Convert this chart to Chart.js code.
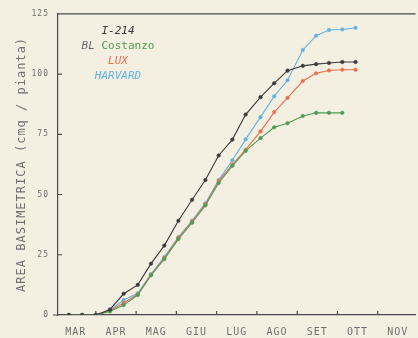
<!DOCTYPE html>
<html>
<head>
<meta charset="utf-8">
<script src="https://cdn.jsdelivr.net/npm/chart.js@4"></script>
<style>
html,body{margin:0;padding:0;background:#f3f0e2;}
#wrap{width:418px;height:338px;position:relative;}
</style>
</head>
<body>
<div id="wrap"><canvas id="c" width="418" height="338"></canvas></div>
<script>
// Month labels (x axis), positions in months counted from 1 March
const months = ['MAR','APR','MAG','GIU','LUG','AGO','SET','OTT','NOV'];
const samplePos = [0.33,0.66,1.0,1.35,1.69,2.04,2.37,2.70,3.05,3.39,3.72,4.05,4.39,4.72,5.09,5.43,5.76,6.14,6.47,6.79,7.12,7.45];
const yTicks = [0,25,50,75,100,125];

// Series values (cmq / pianta)
const i214     = [0,0,0,2.3,8.8,12.5,21.3,28.8,39.1,47.8,56.0,66.2,72.8,83.2,90.4,96.2,101.4,103.4,104.1,104.6,105,105];
const costanzo = [0,0,0,1.5,4.1,8.3,16.5,23.2,31.5,38.3,45.5,54.8,61.9,68.1,73.4,77.9,79.6,82.6,83.9,83.9,83.9];
const lux      = [0,0,0,1.8,5.0,8.6,16.7,23.6,32.0,38.8,46.0,55.6,62.4,68.6,76.2,84.2,90.1,97.1,100.3,101.5,101.8,101.8];
const harvard  = [0,0,0,2.0,6.2,9.0,17.0,24.0,32.3,39.2,46.4,56.0,64.2,72.9,82.1,90.8,97.4,110.0,115.9,118.3,118.5,119.2];

const COL = {i214:'#3c3a3a', costanzo:'#4f9a55', lux:'#f06e50', harvard:'#62b2e2', axis:'#4a4a4a', text:'#707070'};

function pts(vals){ return vals.map((v,i)=>({x:samplePos[i], y:v})); }
function ds(label, vals, color){
  return {label, data:pts(vals), borderColor:color, backgroundColor:color, borderWidth:1.1,
    pointRadius:1.8, pointHoverRadius:1.8, pointBorderWidth:0.5, pointStyle:'circle', tension:0};
}

const decor = {
  id:'decor',
  beforeDraw(chart){ chart.ctx.letterSpacing = '1px'; },
  afterDraw(chart){
    const {ctx, chartArea:a, scales:{x,y}} = chart;
    ctx.save();
    ctx.strokeStyle = COL.axis; ctx.lineWidth = 1.2;
    ctx.beginPath();
    ctx.moveTo(a.left, a.top); ctx.lineTo(a.right, a.top);
    // inward month ticks
    for(let m=1;m<=9;m++){ const px=x.getPixelForValue(m); if(px<a.right){ctx.moveTo(px,a.bottom); ctx.lineTo(px,a.bottom-4);} }
    for(const t of yTicks.slice(1,-1)){ const py=y.getPixelForValue(t); ctx.moveTo(a.left,py); ctx.lineTo(a.left+4,py); }
    ctx.moveTo(a.left-5,a.bottom); ctx.lineTo(a.left,a.bottom);
    ctx.stroke();
    // legend (text only)
    ctx.letterSpacing = '0px';
    ctx.textBaseline = 'middle';
    const cx = 118;
    const rows = [
      [['I-214', COL.i214, 'italic']],
      [['BL ', '#6a6a6a', 'italic'], ['Costanzo', COL.costanzo, 'normal']],
      [['LUX', COL.lux, 'italic']],
      [['HARVARD', COL.harvard, 'italic']]
    ];
    rows.forEach((parts,r)=>{
      let w=0;
      parts.forEach(p=>{ ctx.font = p[2]+' 11px "DejaVu Sans Mono"'; w+=ctx.measureText(p[0]).width; });
      let xx = cx - w/2; const yy = 31 + r*15;
      parts.forEach(p=>{ ctx.font = p[2]+' 11px "DejaVu Sans Mono"'; ctx.fillStyle=p[1]; ctx.textAlign='left'; ctx.fillText(p[0], xx, yy); xx+=ctx.measureText(p[0]).width; });
    });
    ctx.restore();
  }
};

new Chart(document.getElementById('c'), {
  type:'line',
  data:{ datasets:[
    ds('I-214', i214, COL.i214),
    ds('BL Costanzo', costanzo, COL.costanzo),
    ds('LUX', lux, COL.lux),
    ds('HARVARD', harvard, COL.harvard)
  ]},
  options:{
    responsive:false, animation:false, devicePixelRatio:1,
    layout:{padding:{top:12,right:0,left:0,bottom:0}},
    plugins:{legend:{display:false}, tooltip:{enabled:false}},
    scales:{
      x:{ type:'linear', min:0.06, max:8.94,
        afterBuildTicks(s){ s.ticks = months.map((_,i)=>({value:i+0.5})); },
        afterFit(s){ s.height = 23; },
        grid:{display:false, drawTicks:false},
        border:{display:true, color:COL.axis, width:1.2},
        ticks:{ autoSkip:false, maxRotation:0, padding:11, color:COL.text,
          font:{family:'"DejaVu Sans Mono"', size:10},
          callback:(v)=>months[Math.round(v-0.5)] }
      },
      y:{ type:'linear', min:0, max:125,
        afterBuildTicks(s){ s.ticks = yTicks.map(v=>({value:v})); },
        afterFit(s){ s.width = 58; },
        grid:{display:false, drawTicks:false},
        border:{display:true, color:COL.axis, width:1.2},
        ticks:{ padding:9, color:COL.text, font:{family:'"DejaVu Sans Mono"', size:8} },
        title:{ display:true, text:'AREA BASIMETRICA (cmq / pianta)', color:COL.text,
          font:{family:'"DejaVu Sans Mono"', size:12}, padding:{top:15,bottom:0} }
      }
    }
  },
  plugins:[decor]
});
</script>
</body>
</html>
